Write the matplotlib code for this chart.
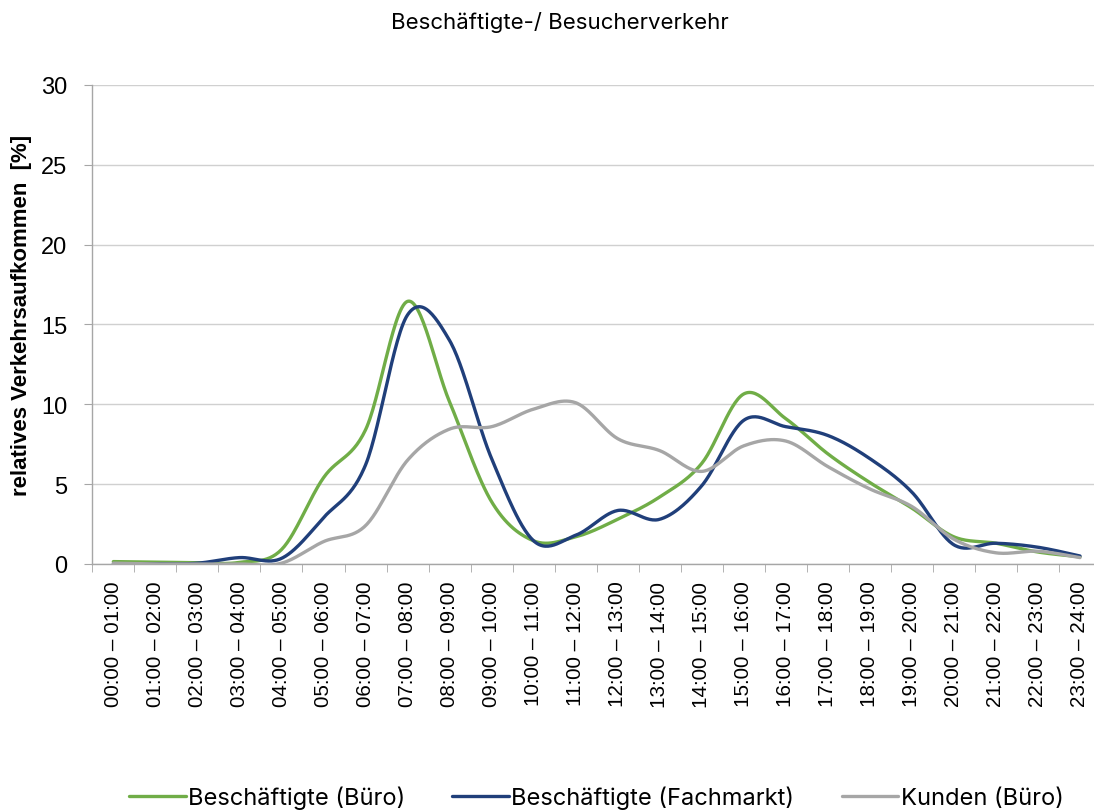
import numpy as np
import matplotlib
matplotlib.use("Agg")
import matplotlib.pyplot as plt

# Stundenintervalle
hours = [f"{h:02d}:00 – {h + 1:02d}:00" for h in range(24)]

buero = [0.15, 0.12, 0.08, 0.1, 0.9, 5.4, 8.4, 16.45, 10.15, 3.9, 1.45, 1.7,
         2.8, 4.2, 6.3, 10.65, 9.1, 6.9, 5.1, 3.5, 1.7, 1.3, 0.75, 0.45]
fachmarkt = [0.0, 0.0, 0.05, 0.4, 0.35, 2.9, 6.2, 15.6, 14.0, 6.6, 1.45, 1.8,
             3.35, 2.8, 4.9, 9.0, 8.6, 8.05, 6.6, 4.5, 1.2, 1.3, 1.05, 0.5]
kunden = [0.05, 0.0, 0.0, 0.0, 0.05, 1.4, 2.4, 6.5, 8.45, 8.6, 9.7, 10.1,
          7.85, 7.1, 5.8, 7.4, 7.7, 6.1, 4.7, 3.6, 1.55, 0.7, 0.8, 0.4]

series = [
    ("Beschäftigte (Büro)", buero, "#70AD47"),
    ("Beschäftigte (Fachmarkt)", fachmarkt, "#203F7A"),
    ("Kunden (Büro)", kunden, "#A6A6A6"),
]


def smooth(x, y, n=30):
    # Bezier-Glättung wie in Excel (Catmull-Rom)
    x = np.asarray(x, float)
    y = np.asarray(y, float)
    px = np.concatenate([[x[0]], x, [x[-1]]])
    py = np.concatenate([[y[0]], y, [y[-1]]])
    xs, ys = [], []
    t = np.linspace(0, 1, n)
    for i in range(len(x) - 1):
        p0 = np.array([px[i + 1], py[i + 1]])
        p3 = np.array([px[i + 2], py[i + 2]])
        p1 = p0 + (np.array([px[i + 2], py[i + 2]]) - np.array([px[i], py[i]])) / 6
        p2 = p3 - (np.array([px[i + 3], py[i + 3]]) - np.array([px[i + 1], py[i + 1]])) / 6
        b = ((1 - t) ** 3)[:, None] * p0 + (3 * (1 - t) ** 2 * t)[:, None] * p1 \
            + (3 * (1 - t) * t ** 2)[:, None] * p2 + (t ** 3)[:, None] * p3
        xs.append(b[:, 0])
        ys.append(b[:, 1])
    return np.concatenate(xs), np.concatenate(ys)


fig = plt.figure(figsize=(10.94, 8.12), dpi=100)
ax = fig.add_axes([0.0844, 0.3042, 0.922, 0.5899])

x = np.arange(len(hours))
for name, vals, col in series:
    sx, sy = smooth(x, vals)
    ax.plot(sx, sy, color=col, lw=2.4, label=name, solid_capstyle="round")

ax.set_xlim(-0.5, len(hours) - 0.5)
ax.set_ylim(0, 30)
ax.set_yticks(range(0, 31, 5))
ax.set_yticklabels([str(v) for v in range(0, 31, 5)], fontsize=17,
                   fontfamily="Liberation Sans")
ax.set_xticks(x)
ax.set_xticklabels(hours, rotation=90, fontsize=14.9, fontfamily="Liberation Sans")
ax.set_xticks(np.arange(-0.5, len(hours), 1), minor=True)
ax.tick_params(axis="x", which="major", length=0, pad=12)
ax.tick_params(axis="x", which="minor", length=6, color="#A6A6A6", direction="out")
ax.tick_params(axis="y", length=6, color="#A6A6A6", pad=12)

ax.grid(axis="y", color="#D0D0D0", lw=1)
ax.set_axisbelow(True)
for s in ["top", "right"]:
    ax.spines[s].set_visible(False)
for s in ["left", "bottom"]:
    ax.spines[s].set_color("#A6A6A6")
    ax.spines[s].set_linewidth(1)

ax.set_ylabel("relatives Verkehrsaufkommen  [%]", fontsize=16, fontweight="bold",
              fontfamily="Liberation Sans")
ax.yaxis.set_label_coords(-0.06, 0.52)

fig.text(0.512, 0.972, "Beschäftigte-/ Besucherverkehr", ha="center", va="center",
         fontsize=16, fontfamily="Inter")

fig.legend(loc="center", bbox_to_anchor=(0.545, 0.017), ncol=3, frameon=False,
           prop={"family": "Inter", "size": 17}, handlelength=2.4,
           handletextpad=0.1, columnspacing=2.0)

fig.savefig("out.png", dpi=100)
